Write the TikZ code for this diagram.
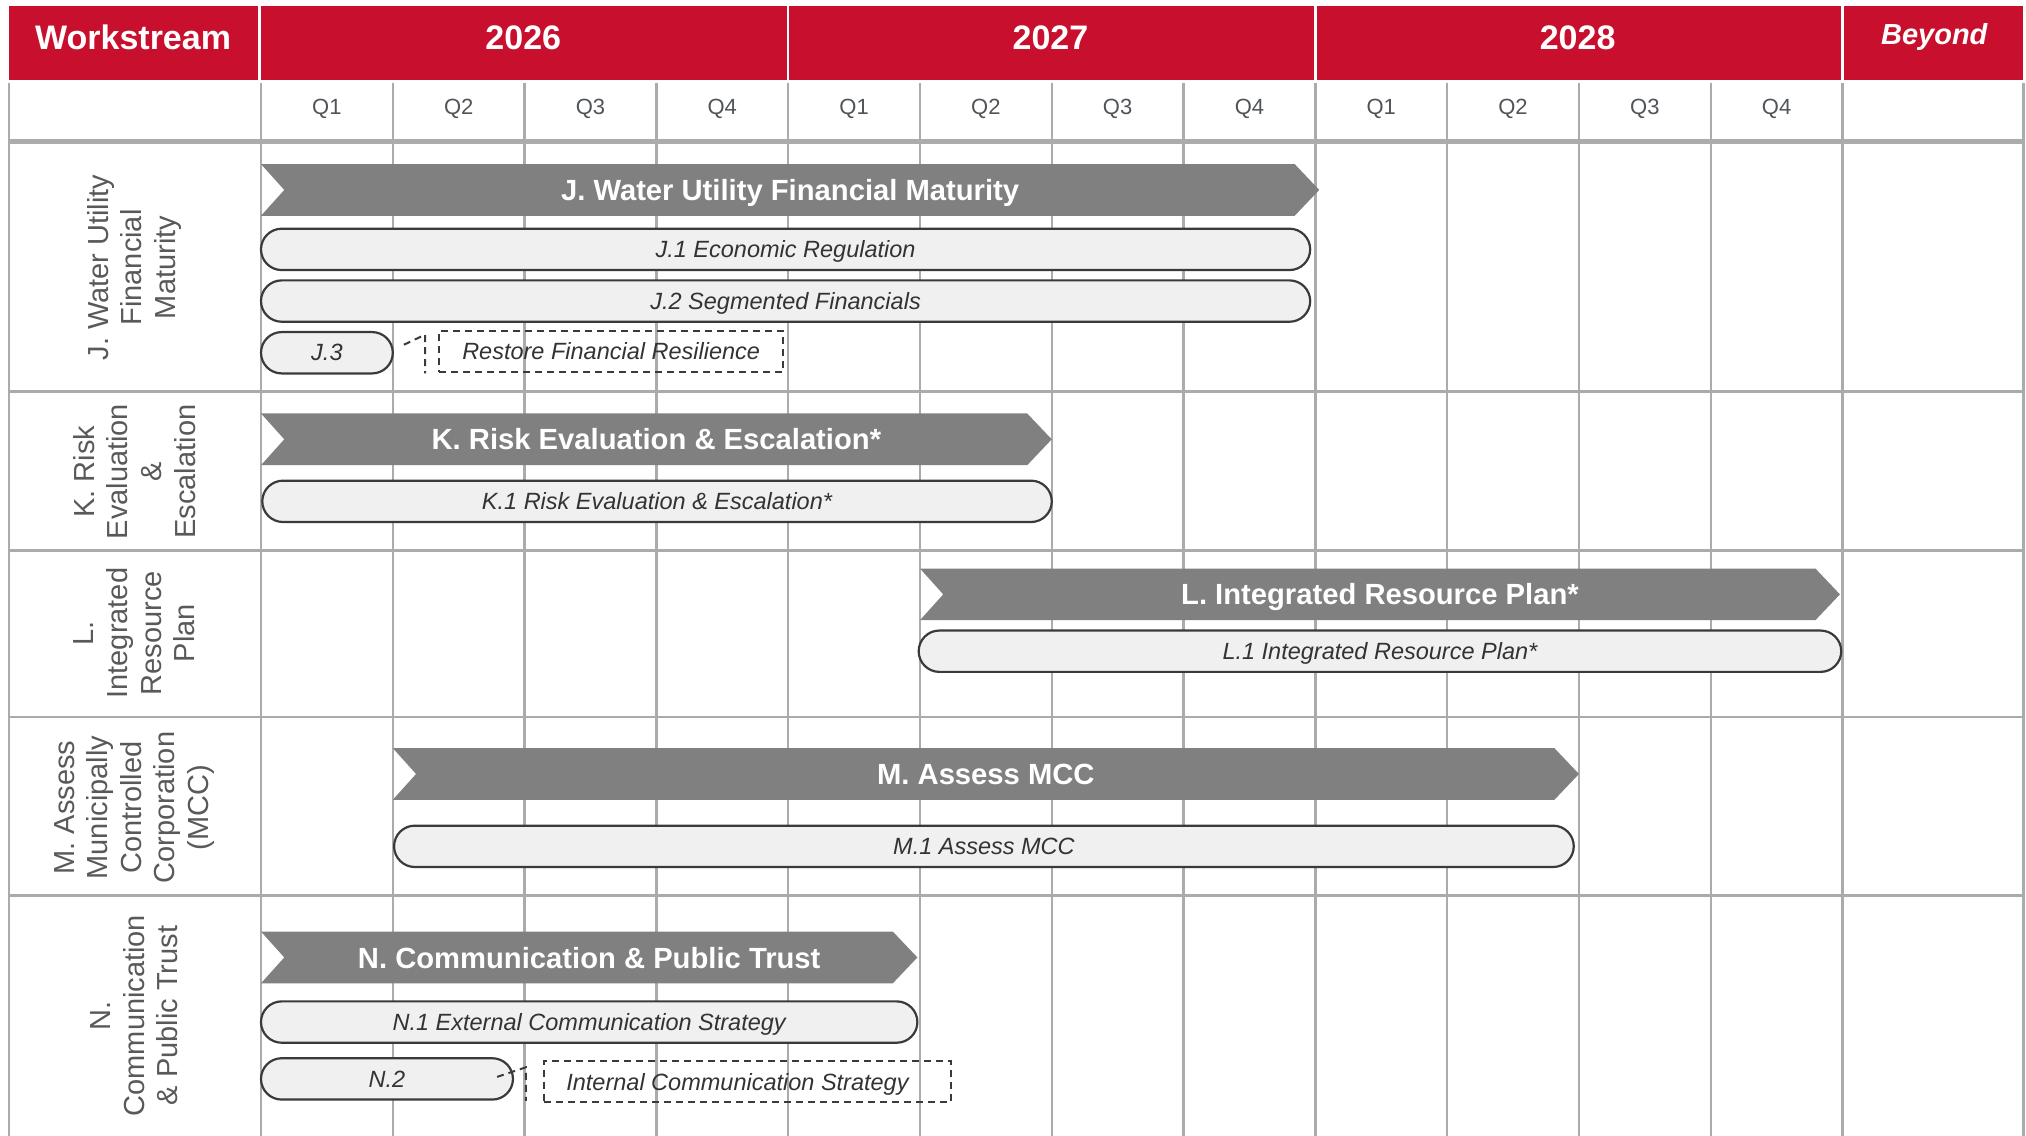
\documentclass[tikz,border=0pt]{standalone}
\usepackage{fontspec}
\setmainfont{Liberation Sans}
\usetikzlibrary{shapes.misc,calc}
\definecolor{hdrred}{HTML}{C8102E}
\definecolor{gridgray}{HTML}{ABABAB}
\definecolor{barfill}{HTML}{808080}
\definecolor{pillfill}{HTML}{F0F0F0}
\definecolor{pilldraw}{HTML}{3A3A3A}
\definecolor{labgray}{HTML}{595959}
\definecolor{qgray}{HTML}{505459}
\definecolor{txtdark}{HTML}{333333}
\tikzset{
  gridline/.style={draw=gridgray, line width=1.2pt},
  hdrtext/.style={text=white, font=\fontsize{17}{20}\selectfont\bfseries, inner sep=0pt, text depth=0pt},
  qtext/.style={text=qgray, font=\fontsize{11}{13}\selectfont, inner sep=0pt, text depth=0pt},
  rowlabel/.style={text=labgray, font=\fontsize{14.5}{16.8}\selectfont, rotate=90, align=center, inner sep=0pt},
  bartext/.style={text=white, font=\fontsize{14.6}{17}\selectfont\bfseries, inner sep=0pt, text depth=0pt},
  pill/.style={rounded rectangle, draw=pilldraw, fill=pillfill, line width=1.1pt, inner sep=0pt, text depth=0pt,
    text=txtdark, font=\fontsize{11.75}{14}\selectfont\itshape},
  dbox/.style={draw=pilldraw, line width=1pt, dash pattern=on 3.5pt off 2.5pt, inner sep=0pt, text depth=0pt,
    text=txtdark, font=\fontsize{11.75}{14}\selectfont\itshape},
  dashcon/.style={draw=pilldraw, line width=1pt, dash pattern=on 3.5pt off 2.5pt}
}
\newcommand{\chevbar}[5]{%
  \fill[barfill] (#1,#3) -- ({#2-19},#3) -- (#2,{#3+20}) -- ({#2-19},{#3+40}) -- (#1,{#3+40}) -- ({#1+18},{#3+20}) -- cycle;
  \node[bartext] (#4) at ({(#1+#2)/2},{#3+20}) {#5};}
\newcommand{\pillbar}[6]{%
  \node[pill, minimum width={(#2-#1)*0.646pt}, minimum height={(#4-#3)*0.646pt}] (#5) at ({(#1+#2)/2},{(#3+#4)/2}) {#6};}
\newcommand{\dashedbox}[6]{%
  \node[dbox, minimum width={(#2-#1)*0.646pt}, minimum height={(#4-#3)*0.646pt}] (#5) at ({(#1+#2)/2},{(#3+#4)/2}) {#6};}
\begin{document}
\begin{tikzpicture}[x=0.646pt, y=-0.646pt]
\useasboundingbox (0,0) rectangle (1568,879);
% header cells
\fill[hdrred] (7,5) rectangle (200,62);
\fill[hdrred] (202,5) rectangle (609,62);
\fill[hdrred] (611,5) rectangle (1017,62);
\fill[hdrred] (1019,5) rectangle (1425,62);
\fill[hdrred] (1427,5) rectangle (1566,62);
\node[hdrtext] (hWS) at (103,29) {Workstream};
\node[hdrtext] (h26) at (405,29) {2026};
\node[hdrtext] (h27) at (813,29) {2027};
\node[hdrtext] (h28) at (1221,29) {2028};
\node[hdrtext, font=\fontsize{14.5}{17}\selectfont\bfseries\itshape] (hBY) at (1497,26) {Beyond};
% grid
\foreach \xx in {7,202,304,406,508,610,712,814,916,1018,1120,1222,1324,1426,1566}
  \draw[gridline] (\xx,64) -- (\xx,879);
\foreach \yy in {303,426,555,693}
  \draw[gridline] (7,\yy) -- (1566,\yy);
\draw[draw=gridgray, line width=2.6pt] (7,109.5) -- (1566,109.5);
% quarter labels
\foreach \k/\q in {0/Q1,1/Q2,2/Q3,3/Q4,4/Q1,5/Q2,6/Q3,7/Q4,8/Q1,9/Q2,10/Q3,11/Q4}
  \node[qtext] (q\k) at ({253+102*\k},83) {\q};
% row labels
\node[rowlabel] (rJ) at (104,207) {J. Water Utility\\Financial\\Maturity};
\node[rowlabel] (rK) at (104,365) {K. Risk\\Evaluation\\\&\\Escalation};
\node[rowlabel] (rL) at (104,490) {L.\\Integrated\\Resource\\Plan};
\node[rowlabel] (rM) at (104,625) {M. Assess\\Municipally\\Controlled\\Corporation\\(MCC)};
\node[rowlabel] (rN) at (104,786) {N.\\Communication\\\& Public Trust};
% J
\chevbar{202}{1021}{127}{J}{J. Water Utility Financial Maturity}
\pillbar{202}{1014}{177}{209}{J1}{J.1 Economic Regulation}
\pillbar{202}{1014}{217}{249}{J2}{J.2 Segmented Financials}
\pillbar{202}{304}{257}{289}{J3}{J.3}
\dashedbox{340}{606}{256}{288}{J3d}{Restore Financial Resilience}
\coordinate (j3top) at (329,259);
\coordinate (j3bot) at (329,289);
\draw[dashcon] ([xshift=5pt,yshift=4pt]J3.east) -- (j3top) -- (j3bot);
% K
\chevbar{202}{814}{320}{K}{K. Risk Evaluation \& Escalation*}
\pillbar{203}{814}{372}{404}{K1}{K.1 Risk Evaluation \& Escalation*}
% L
\chevbar{712}{1424}{440}{L}{L. Integrated Resource Plan*}
\pillbar{711}{1425}{488}{520}{L1}{L.1 Integrated Resource Plan*}
% M
\chevbar{304}{1222}{579}{M}{M. Assess MCC}
\pillbar{305}{1218}{639}{671}{M1}{M.1 Assess MCC}
% N
\chevbar{202}{710}{721}{N}{N. Communication \& Public Trust}
\pillbar{202}{710}{775}{807}{N1}{N.1 External Communication Strategy}
\pillbar{202}{397}{819}{851}{N2}{N.2}
\dashedbox{421}{736}{821}{853}{N2d}{\hspace*{-10pt}Internal Communication Strategy}
\coordinate (n2top) at (407,826);
\coordinate (n2bot) at (407,852);
\draw[dashcon] ([xshift=-8.5pt,yshift=1pt]N2.east) -- (n2top) -- (n2bot);
\end{tikzpicture}
\end{document}
